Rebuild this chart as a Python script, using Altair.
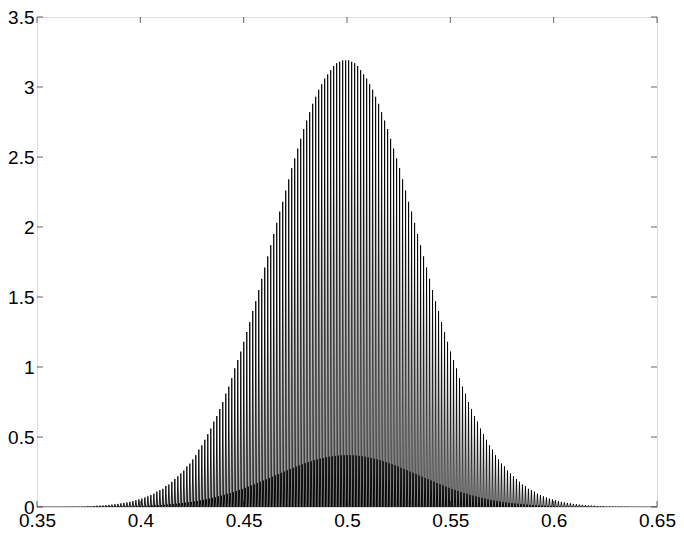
import altair as alt
import pandas as pd

# Sampling grid of the oscillating signal (one cycle per sample)
X_START = 0.35
X_STEP = 0.00145

# Peak heights of the tall spikes, one per cycle
HIGH = [
    0.0, 0.0, 0.0, 0.001, 0.001, 0.001, 0.001, 0.001, 0.001, 0.002,
    0.002, 0.002, 0.003, 0.003, 0.004, 0.004, 0.005, 0.006, 0.006, 0.007,
    0.009, 0.010, 0.011, 0.013, 0.015, 0.017, 0.020, 0.022, 0.026, 0.029,
    0.033, 0.037, 0.042, 0.048, 0.054, 0.060, 0.068, 0.076, 0.085, 0.095,
    0.11, 0.12, 0.13, 0.15, 0.16, 0.18, 0.20, 0.22, 0.24, 0.26,
    0.29, 0.31, 0.34, 0.37, 0.41, 0.44, 0.48, 0.52, 0.56, 0.61,
    0.65, 0.70, 0.75, 0.81, 0.86, 0.92, 0.99, 1.05, 1.11, 1.18,
    1.25, 1.32, 1.40, 1.47, 1.55, 1.63, 1.71, 1.79, 1.87, 1.95,
    2.03, 2.11, 2.18, 2.26, 2.34, 2.42, 2.49, 2.56, 2.63, 2.70,
    2.76, 2.82, 2.88, 2.93, 2.98, 3.02, 3.06, 3.09, 3.12, 3.15,
    3.17, 3.18, 3.19,
    3.19,
    3.19, 3.18, 3.17,
    3.15, 3.12, 3.09, 3.06, 3.02, 2.98, 2.93, 2.88, 2.82, 2.76,
    2.70, 2.63, 2.56, 2.49, 2.42, 2.34, 2.26, 2.18, 2.11, 2.03,
    1.95, 1.87, 1.79, 1.71, 1.63, 1.55, 1.47, 1.40, 1.32, 1.25,
    1.18, 1.11, 1.05, 0.99, 0.92, 0.86, 0.81, 0.75, 0.70, 0.65,
    0.61, 0.56, 0.52, 0.48, 0.44, 0.41, 0.37, 0.34, 0.31, 0.29,
    0.26, 0.24, 0.22, 0.20, 0.18, 0.16, 0.15, 0.13, 0.12, 0.11,
    0.095, 0.085, 0.076, 0.068, 0.060, 0.054, 0.048, 0.042, 0.037, 0.033,
    0.029, 0.026, 0.022, 0.020, 0.017, 0.015, 0.013, 0.011, 0.010, 0.009,
    0.007, 0.006, 0.006, 0.005, 0.004, 0.004, 0.003, 0.003, 0.002, 0.002,
    0.002, 0.001, 0.001, 0.001, 0.001, 0.001, 0.001, 0.0, 0.0, 0.0,
]

# Heights of the small in-between spikes (dark band), one per cycle
MID = [
    0.0, 0.0, 0.0, 0.0, 0.0, 0.0, 0.0, 0.0, 0.0, 0.0,
    0.0, 0.0, 0.0, 0.0, 0.0, 0.001, 0.001, 0.001, 0.001, 0.001,
    0.001, 0.001, 0.001, 0.002, 0.002, 0.002, 0.002, 0.003, 0.003, 0.003,
    0.004, 0.004, 0.005, 0.006, 0.006, 0.007, 0.008, 0.009, 0.010, 0.011,
    0.012, 0.014, 0.015, 0.017, 0.019, 0.021, 0.023, 0.025, 0.028, 0.030,
    0.033, 0.036, 0.040, 0.043, 0.047, 0.051, 0.056, 0.060, 0.065, 0.070,
    0.076, 0.081, 0.087, 0.094, 0.100, 0.107, 0.114, 0.122, 0.129, 0.137,
    0.145, 0.154, 0.162, 0.171, 0.180, 0.189, 0.198, 0.207, 0.216, 0.226,
    0.235, 0.244, 0.253, 0.262, 0.271, 0.280, 0.289, 0.297, 0.305, 0.313,
    0.320, 0.327, 0.334, 0.340, 0.345, 0.350, 0.355, 0.359, 0.362, 0.365,
    0.367, 0.369, 0.370,
    0.370,
    0.370, 0.369, 0.367,
    0.365, 0.362, 0.359, 0.355, 0.350, 0.345, 0.340, 0.334, 0.327, 0.320,
    0.313, 0.305, 0.297, 0.289, 0.280, 0.271, 0.262, 0.253, 0.244, 0.235,
    0.226, 0.216, 0.207, 0.198, 0.189, 0.180, 0.171, 0.162, 0.154, 0.145,
    0.137, 0.129, 0.122, 0.114, 0.107, 0.100, 0.094, 0.087, 0.081, 0.076,
    0.070, 0.065, 0.060, 0.056, 0.051, 0.047, 0.043, 0.040, 0.036, 0.033,
    0.030, 0.028, 0.025, 0.023, 0.021, 0.019, 0.017, 0.015, 0.014, 0.012,
    0.011, 0.010, 0.009, 0.008, 0.007, 0.006, 0.006, 0.005, 0.004, 0.004,
    0.003, 0.003, 0.003, 0.002, 0.002, 0.002, 0.002, 0.001, 0.001, 0.001,
    0.001, 0.001, 0.001, 0.001, 0.001, 0.0, 0.0, 0.0, 0.0, 0.0,
    0.0, 0.0, 0.0, 0.0, 0.0, 0.0, 0.0, 0.0, 0.0, 0.0,
]

X_TICKS = [0.35, 0.4, 0.45, 0.5, 0.55, 0.6, 0.65]
Y_TICKS = [0, 0.5, 1, 1.5, 2, 2.5, 3, 3.5]

W, H = 620, 490
FONT = "Liberation Sans"
FS = 19

rows = []
for i, (h, m) in enumerate(zip(HIGH, MID)):
    x0 = X_START + i * X_STEP
    rows.append((x0, h))
    rows.append((x0 + X_STEP / 4, 0.0))
    rows.append((x0 + X_STEP / 2, m))
    rows.append((x0 + 3 * X_STEP / 4, 0.0))
df = pd.DataFrame(rows, columns=["x", "y"])
df["o"] = range(len(df))

xscale = alt.Scale(domain=[0.35, 0.65], nice=False, zero=False)
yscale = alt.Scale(domain=[0, 3.5], nice=False, zero=False)
xaxis = alt.Axis(values=X_TICKS, format="~g", title=None, ticks=False, domain=False,
                 grid=False, labelFont=FONT, labelFontSize=FS, labelColor="black",
                 labelPadding=4, labelFlush=False)
yaxis = alt.Axis(values=Y_TICKS, format="~g", title=None, ticks=False, domain=False,
                 grid=False, labelFont=FONT, labelFontSize=FS, labelColor="black",
                 labelPadding=3, labelFlush=False)

line = alt.Chart(df).mark_line(color="black", strokeWidth=0.9, clip=True).encode(
    x=alt.X("x:Q", scale=xscale, axis=xaxis),
    y=alt.Y("y:Q", scale=yscale, axis=yaxis),
    order="o:Q",
)

xt = pd.DataFrame({"t": X_TICKS})
yt = pd.DataFrame({"t": Y_TICKS})
tick_style = dict(color="black", strokeWidth=0.6)

xb = alt.Chart(xt).mark_rule(**tick_style).encode(
    x=alt.X("t:Q", scale=xscale, axis=xaxis), y=alt.value(H), y2=alt.value(H - 6))
xtop = alt.Chart(xt).mark_rule(**tick_style).encode(
    x=alt.X("t:Q", scale=xscale, axis=xaxis), y=alt.value(0), y2=alt.value(6))
yl = alt.Chart(yt).mark_rule(**tick_style).encode(
    y=alt.Y("t:Q", scale=yscale, axis=yaxis), x=alt.value(0), x2=alt.value(6))
yr = alt.Chart(yt).mark_rule(**tick_style).encode(
    y=alt.Y("t:Q", scale=yscale, axis=yaxis), x=alt.value(W - 6), x2=alt.value(W))

chart = alt.layer(line, xb, xtop, yl, yr).properties(
    width=W, height=H,
    autosize=alt.AutoSizeParams(type="none"),
    padding={"left": 29, "top": 9, "right": 19, "bottom": 26},
).configure_view(stroke="black", strokeWidth=0.6).configure(background="white")

chart.save("out.html", embed_options={"renderer": "svg", "actions": False})
